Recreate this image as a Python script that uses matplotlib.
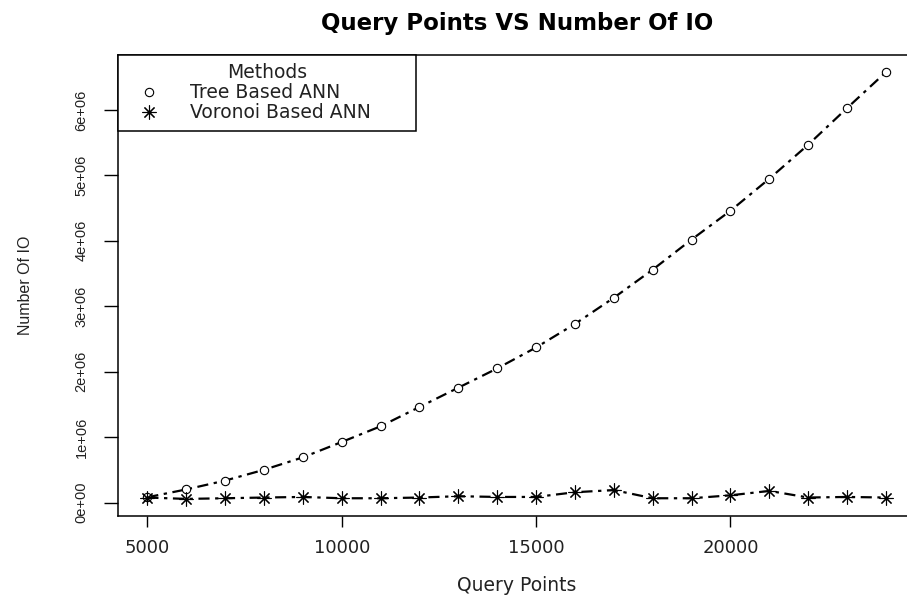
import matplotlib
matplotlib.use("Agg")
import matplotlib.pyplot as plt

# data
query_points = [5000, 6000, 7000, 8000, 9000, 10000, 11000, 12000, 13000, 14000,
                15000, 16000, 17000, 18000, 19000, 20000, 21000, 22000, 23000, 24000]
tree_io = [80000, 200000, 335000, 500000, 690000, 925000, 1165000, 1460000, 1755000, 2050000,
           2370000, 2730000, 3130000, 3560000, 4020000, 4460000, 4950000, 5470000, 6030000, 6580000]
voronoi_io = [76000, 55000, 65000, 76000, 85000, 65000, 65000, 76000, 96000, 85000,
              85000, 157000, 190000, 65000, 65000, 110000, 177000, 76000, 85000, 76000]

x_ticks = [5000, 10000, 15000, 20000]
y_ticks = [0, 1e6, 2e6, 3e6, 4e6, 5e6, 6e6]
y_tick_labels = ["0e+00", "1e+06", "2e+06", "3e+06", "4e+06", "5e+06", "6e+06"]
series_names = ['Tree Based ANN', 'Voronoi Based ANN']

plt.rcParams['font.family'] = ['DejaVu Sans']
text_color = '#222222'
narrow = ['Liberation Sans', 'DejaVu Sans']  # for the rotated texts

fig = plt.figure(figsize=(9.07, 5.99), dpi=100)
ax = fig.add_axes([0.1299, 0.1386, 0.8795, 0.7696])

dash = (5, 2.5, 1.5, 2.5)
ax.plot(query_points, tree_io, color='black', lw=1.6, dashes=dash,
        marker='o', markersize=6, markerfacecolor='white', markeredgewidth=0.8)
ax.plot(query_points, voronoi_io, color='black', lw=1.6, dashes=dash,
        marker=(8, 2, 0), markersize=10, markeredgewidth=0.8)

# R style limits: 4% padding around the data range
xr = max(query_points) - min(query_points)
ax.set_xlim(min(query_points) - 0.04 * xr, max(query_points) + 0.04 * xr)
ylo = min(voronoi_io)
yhi = max(tree_io)
ax.set_ylim(ylo - 0.04 * (yhi - ylo), yhi + 0.04 * (yhi - ylo))

ax.set_xticks(x_ticks)
ax.set_xticklabels([str(t) for t in x_ticks], fontsize=13, color=text_color)
ax.set_yticks(y_ticks)
ax.set_yticklabels(y_tick_labels, fontsize=10.5, color=text_color, rotation=90,
                   va='center', family=narrow)
ax.tick_params(axis='x', length=8, width=1, pad=8.5)
ax.tick_params(axis='y', length=10, width=1, pad=11)
for sp in ax.spines.values():
    sp.set_linewidth(1.1)
ax.spines['right'].set_visible(False)

ax.set_xlabel('Query Points', fontsize=13.5, color=text_color, labelpad=14)
ax.set_ylabel('Number Of IO', fontsize=11.5, color=text_color, labelpad=30, family=narrow)
ax.set_title('Query Points VS Number Of IO', fontsize=16.5, fontweight='bold', pad=18)

leg = ax.legend(series_names, title='Methods',
                loc='upper left', bbox_to_anchor=(0, 0, 0.374, 1), mode='expand',
                borderaxespad=0, fancybox=False, framealpha=1,
                edgecolor='black', fontsize=13.5, title_fontsize=13.5,
                handlelength=2.45, handletextpad=0.95, borderpad=0.45,
                labelspacing=0.05)
leg.get_frame().set_linewidth(1.1)
for h in leg.legend_handles:
    h.set_linestyle('none')
for t in leg.get_texts():
    t.set_color(text_color)
leg.get_title().set_color(text_color)

fig.savefig('out.png', dpi=100)
